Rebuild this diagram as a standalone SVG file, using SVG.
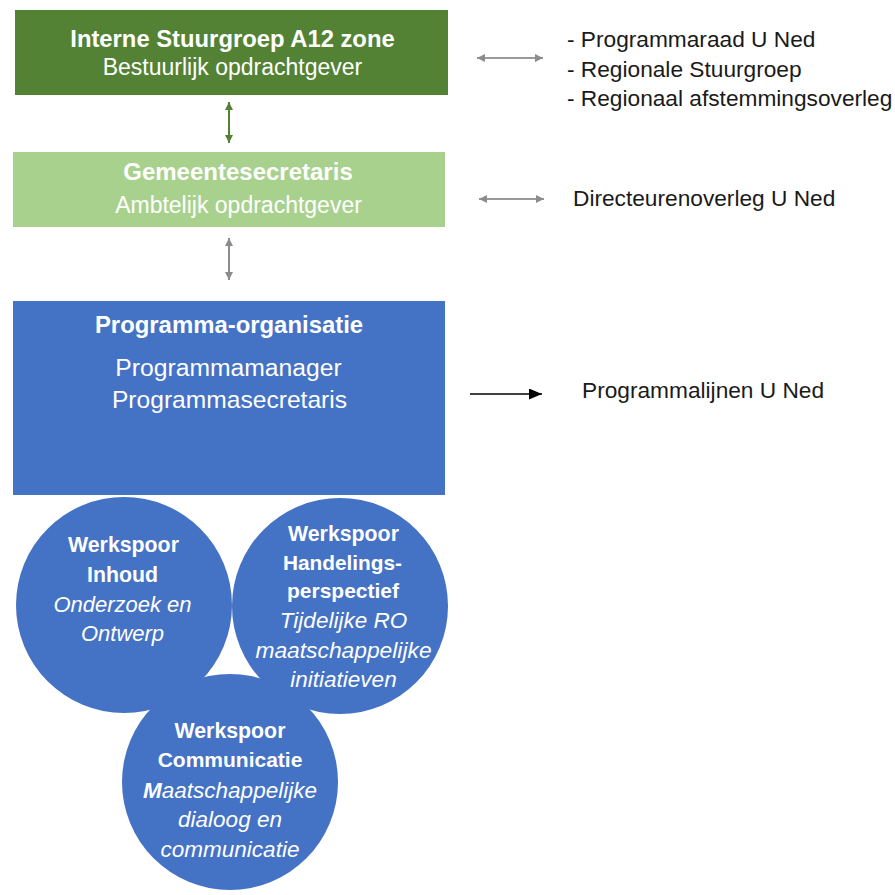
<svg xmlns="http://www.w3.org/2000/svg" width="895" height="895" viewBox="0 0 895 895">
<style>
text{font-family:"Liberation Sans",Arial,sans-serif;}
.w{fill:#ffffff;text-anchor:middle;}
.b{font-weight:bold;}
.i{font-style:italic;}
.side{fill:#1a1a1a;font-size:22.7px;}
.conn{fill:none;stroke-width:2;}
</style>
<defs>
<marker id="hGreen" markerUnits="userSpaceOnUse" markerWidth="10" markerHeight="10" refX="8" refY="4" orient="auto-start-reverse">
<path d="M0,0 L8,4 L0,8 z" fill="#548235"/>
</marker>
<marker id="hGray" markerUnits="userSpaceOnUse" markerWidth="10" markerHeight="10" refX="8" refY="4" orient="auto-start-reverse">
<path d="M0,0 L8,4 L0,8 z" fill="#8c8c8c"/>
</marker>
<marker id="hBlack" markerUnits="userSpaceOnUse" markerWidth="14" markerHeight="12" refX="13" refY="5.5" orient="auto">
<path d="M0,0 L13,5.5 L0,11 z" fill="#000000"/>
</marker>
</defs>

<g id="stuurgroep">
<rect x="15" y="10" width="433" height="85" fill="#548235"/>
<text class="w b" x="232.5" y="46.5" font-size="23.8">Interne Stuurgroep A12 zone</text>
<text class="w" x="232.5" y="75" font-size="23">Bestuurlijk opdrachtgever</text>
</g>

<g id="gemeentesecretaris">
<rect x="13" y="152" width="432" height="75" fill="#A9D18E"/>
<text class="w b" x="238" y="180" font-size="24">Gemeentesecretaris</text>
<text class="w" x="238.5" y="213" font-size="23">Ambtelijk opdrachtgever</text>
</g>

<g id="programma-organisatie">
<rect x="13" y="301" width="432" height="194" fill="#4472C4"/>
<text class="w b" x="229" y="333" font-size="23.9">Programma-organisatie</text>
<text class="w" x="228.5" y="376" font-size="24.7">Programmamanager</text>
<text class="w" x="229.5" y="408" font-size="24.6">Programmasecretaris</text>
</g>

<g id="werkspoor-inhoud">
<circle cx="124" cy="605" r="108" fill="#4472C4"/>
<text class="w b" x="123.5" y="552" font-size="21.3">Werkspoor</text>
<text class="w b" x="122.5" y="581.5" font-size="21.3">Inhoud</text>
<text class="w i" x="122.5" y="611.5" font-size="22">Onderzoek en</text>
<text class="w i" x="122.5" y="641" font-size="22">Ontwerp</text>
</g>

<g id="werkspoor-handelingsperspectief">
<circle cx="340" cy="606" r="108" fill="#4472C4"/>
<text class="w b" x="343.5" y="541" font-size="21.3">Werkspoor</text>
<text class="w b" x="342.5" y="570" font-size="20.8">Handelings-</text>
<text class="w b" x="343" y="598" font-size="21">perspectief</text>
<text class="w i" x="343.5" y="628" font-size="22.5">Tijdelijke RO</text>
<text class="w i" x="343.5" y="658" font-size="22.8">maatschappelijke</text>
<text class="w i" x="343.5" y="687" font-size="22.5">initiatieven</text>
</g>

<g id="werkspoor-communicatie">
<circle cx="230" cy="782" r="108" fill="#4472C4"/>
<text class="w b" x="230" y="738" font-size="21.3">Werkspoor</text>
<text class="w b" x="230" y="767" font-size="21">Communicatie</text>
<text class="w i" x="230" y="797.5" font-size="22.5"><tspan font-weight="bold">M</tspan>aatschappelijke</text>
<text class="w i" x="230" y="827" font-size="22.5">dialoog en</text>
<text class="w i" x="230" y="857" font-size="22.5">communicatie</text>
</g>

<g id="overleg-top">
<text class="side" x="567" y="47">- Programmaraad U Ned</text>
<text class="side" x="567" y="76.5">- Regionale Stuurgroep</text>
<text class="side" x="567" y="106">- Regionaal afstemmingsoverleg</text>
</g>

<g id="directeurenoverleg">
<text class="side" x="573" y="206">Directeurenoverleg U Ned</text>
</g>

<g id="programmalijnen">
<text class="side" x="582" y="398" font-size="22.7">Programmalijnen U Ned</text>
</g>

<g id="connectors">
<line class="conn" x1="229" y1="102" x2="229" y2="143" stroke="#548235" marker-start="url(#hGreen)" marker-end="url(#hGreen)"/>
<line class="conn" x1="229" y1="238" x2="229" y2="280" stroke="#8c8c8c" marker-start="url(#hGray)" marker-end="url(#hGray)"/>
<line class="conn" x1="477" y1="58" x2="543" y2="58" stroke="#9a9a9a" marker-start="url(#hGray)" marker-end="url(#hGray)"/>
<line class="conn" x1="479" y1="199" x2="544" y2="199" stroke="#9a9a9a" marker-start="url(#hGray)" marker-end="url(#hGray)"/>
<line x1="470" y1="394" x2="542" y2="394" stroke="#000000" stroke-width="1.5" marker-end="url(#hBlack)"/>
</g>
</svg>
